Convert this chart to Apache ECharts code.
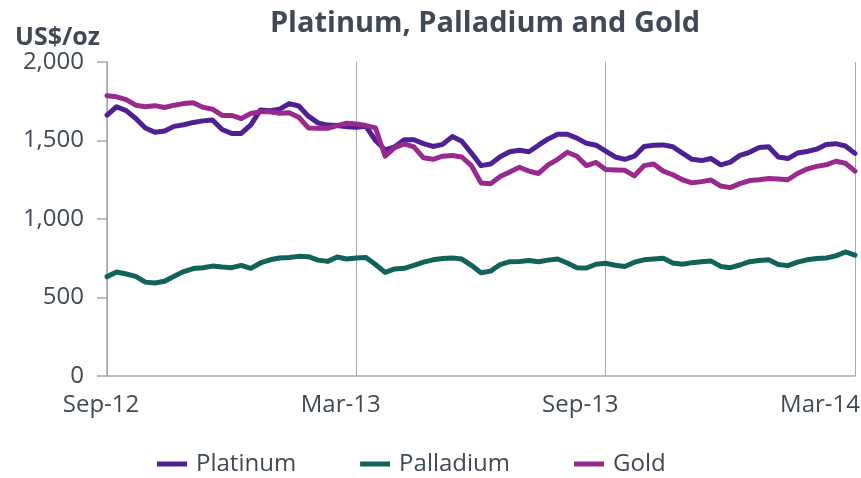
<!DOCTYPE html>
<html>
<head>
<meta charset="utf-8">
<script src="https://cdn.jsdelivr.net/npm/echarts@6/dist/echarts.min.js"></script>
<style>
  html, body { margin: 0; padding: 0; background: #fff; }
  #chart { width: 861px; height: 478px; }
</style>
</head>
<body>
<div id="chart"></div>
<script>
// weekly prices, Sep-12 .. Mar-14 (US$/oz)
const platinum = [1662, 1715, 1690, 1640, 1580, 1552, 1560, 1590, 1600, 1615,
  1625, 1630, 1570, 1545, 1545, 1600, 1695, 1690, 1700, 1735,
  1720, 1655, 1612, 1598, 1595, 1588, 1585, 1590, 1500, 1440,
  1460, 1505, 1505, 1480, 1462, 1475, 1525, 1495, 1420, 1340,
  1350, 1397, 1428, 1438, 1428, 1470, 1510, 1540, 1540, 1515,
  1482, 1470, 1432, 1395, 1380, 1400, 1462, 1470, 1472, 1460,
  1420, 1380, 1372, 1385, 1345, 1362, 1405, 1425, 1455, 1460,
  1395, 1385, 1420, 1430, 1445, 1475, 1480, 1465, 1418];
const palladium = [633, 662, 650, 635, 598, 592, 603, 635, 665, 684,
  690, 700, 694, 690, 705, 685, 720, 740, 752, 755,
  762, 760, 738, 730, 758, 745, 752, 755, 710, 660,
  682, 686, 705, 725, 740, 748, 752, 745, 705, 658,
  668, 710, 728, 730, 735, 728, 738, 745, 720, 690,
  688, 712, 718, 705, 697, 725, 740, 745, 750, 720,
  712, 722, 728, 732, 698, 690, 707, 728, 735, 740,
  710, 703, 725, 740, 748, 752, 765, 790, 770];
const gold = [1785, 1778, 1760, 1725, 1715, 1722, 1710, 1725, 1735, 1740,
  1712, 1700, 1660, 1660, 1640, 1672, 1683, 1683, 1673, 1677,
  1648, 1580, 1578, 1578, 1595, 1610, 1605, 1595, 1580, 1400,
  1455, 1478, 1460, 1390, 1380, 1400, 1405, 1395, 1340, 1230,
  1225, 1270, 1300, 1330, 1305, 1290, 1345, 1380, 1425, 1400,
  1340, 1360, 1315, 1312, 1310, 1275, 1340, 1350, 1305, 1282,
  1250, 1230, 1238, 1248, 1210, 1200, 1225, 1245, 1250, 1258,
  1255, 1250, 1290, 1318, 1335, 1345, 1368, 1355, 1305];
const tickLabels = ["Sep-12", "Mar-13", "Sep-13", "Mar-14"];
const seriesNames = ["Platinum", "Palladium", "Gold"];
const colors = ["#4f1f94", "#11625a", "#972a8c"];

const textColor = "#404a55";
const axisColor = "#a6aaae";
const font = "'Open Sans', Lato, sans-serif";

const myChart = echarts.init(document.getElementById("chart"));

function toPoints(arr) {
  return arr.map((v, i) => [i, v]);
}

const option = {
  animation: false,
  color: colors,
  textStyle: { fontFamily: font },
  title: [
    {
      text: "Platinum, Palladium and Gold",
      left: 480,
      top: 4,
      textAlign: "center",
      textStyle: { fontSize: 29, fontWeight: "bold", color: textColor, fontFamily: font }
    },
    {
      text: "US$/oz",
      left: 10,
      top: 20,
      textStyle: { fontSize: 25, fontWeight: "bold", color: textColor, fontFamily: font }
    }
  ],
  legend: {
    left: 157,
    top: 452,
    padding: 0,
    itemWidth: 30,
    itemHeight: 5,
    itemGap: 64,
    icon: "rect",
    data: seriesNames,
    textStyle: { fontSize: 24, color: textColor, fontFamily: font, padding: [0, 0, 0, 4] }
  },
  grid: [
    { left: 107, right: 6, top: 62, bottom: 102, outerBoundsMode: "none" },
    // second grid only carries the month labels, which sit left of the gridlines
    { left: 101, right: 41, top: 62, bottom: 102, outerBoundsMode: "none" }
  ],
  xAxis: [
    {
      type: "value",
      gridIndex: 0,
      min: 0,
      max: platinum.length - 1,
      interval: 26,
      axisLine: { show: true, lineStyle: { color: axisColor, width: 1.5 } },
      axisTick: { show: false },
      axisLabel: { show: false },
      splitLine: { show: true, lineStyle: { color: axisColor, width: 1 } }
    },
    {
      type: "value",
      gridIndex: 1,
      min: 0,
      max: tickLabels.length - 1,
      interval: 1,
      axisLine: { show: false },
      axisTick: { show: false },
      splitLine: { show: false },
      axisLabel: {
        showMinLabel: true,
        showMaxLabel: true,
        formatter: v => tickLabels[Math.round(v)],
        margin: 17,
        fontSize: 24,
        color: textColor,
        fontFamily: font
      }
    }
  ],
  yAxis: [
    {
      type: "value",
      gridIndex: 0,
      min: 0,
      max: 2000,
      interval: 500,
      axisLine: { show: true, lineStyle: { color: axisColor, width: 1.5 } },
      axisTick: { show: true, length: 10, lineStyle: { color: axisColor, width: 1.5 } },
      splitLine: { show: false },
      axisLabel: {
        margin: 23,
        fontSize: 24,
        color: textColor,
        fontFamily: font,
        formatter: v => v.toLocaleString("en-US")
      }
    },
    { type: "value", gridIndex: 1, show: false }
  ],
  series: [
    { name: "Platinum", type: "line", data: toPoints(platinum) },
    { name: "Palladium", type: "line", data: toPoints(palladium) },
    { name: "Gold", type: "line", data: toPoints(gold) }
  ].map(s => Object.assign(s, {
    xAxisIndex: 0,
    yAxisIndex: 0,
    showSymbol: false,
    lineStyle: { width: 5, cap: "round", join: "round" }
  }))
};

myChart.setOption(option);
</script>
</body>
</html>
